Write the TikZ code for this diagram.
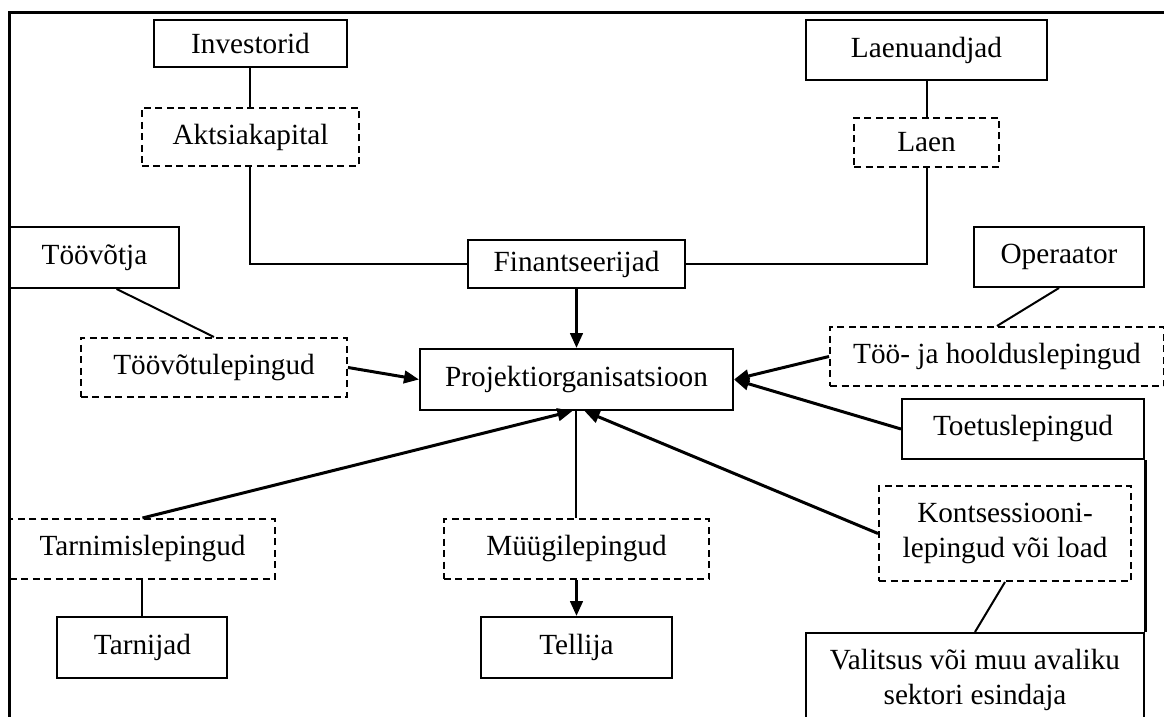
\documentclass[tikz,border=0pt]{standalone}
\usepackage{fontspec}
\setmainfont{Liberation Serif}
\usetikzlibrary{arrows.meta,positioning}

\begin{document}
\begin{tikzpicture}[
  font=\fontsize{11.7}{14}\selectfont,
  box/.style={draw, line width=0.8pt, align=center, inner sep=0pt},
  dashbox/.style={box, dash pattern=on 2.8pt off 1.8pt},
  link/.style={line width=0.8pt},
  heavy/.style={line width=1.2pt},
  flow/.style={heavy, -{Triangle[length=6pt,width=5pt]}},
]
\useasboundingbox (-230.6pt,-134.6pt) rectangle (235pt,151.8pt);

% centre
\node[box, minimum width=125.2pt, minimum height=24.4pt] (proj) {Projektiorganisatsioon};
\node[box, minimum width=86.8pt, minimum height=19.2pt, above=23.6pt of proj] (fin) {Finantseerijad};

% financing side
\node[dashbox, minimum width=86.8pt, minimum height=23.2pt, above left=28.8pt and 42.8pt of fin] (akts) {Aktsiakapital};
\node[box, minimum width=77.2pt, minimum height=18.8pt, above=15.6pt of akts] (inv) {Investorid};
\node[dashbox, minimum width=58pt, minimum height=19.6pt, above right=28.4pt and 66.8pt of fin] (laen) {Laen};
\node[box, minimum width=96.4pt, minimum height=24pt, above=14.4pt of laen] (lender) {Laenuandjad};

% left and right contracts
\node[dashbox, minimum width=106.4pt, minimum height=23.6pt, left=28.4pt of proj, yshift=4.8pt] (tvl) {Töövõtulepingud};
\node[box, minimum width=67.6pt, minimum height=24.4pt, above=19.2pt of tvl, xshift=-47.8pt] (worker) {Töövõtja};
\node[dashbox, minimum width=133.6pt, minimum height=23.6pt, right=38pt of proj, yshift=9.2pt] (maint) {Töö- ja hooldus\-lepingud};
\node[box, minimum width=68pt, minimum height=24pt, above=15.2pt of maint, xshift=24.8pt] (oper) {Operaator};
\node[box, minimum width=96.8pt, minimum height=24pt, below=4.4pt of maint, xshift=10.4pt] (support) {Toetuslepingud};
\node[dashbox, minimum width=100.8pt, minimum height=38pt, below=10pt of support, xshift=-7.2pt] (conc) {Kontsessiooni-\\lepingud või load};
\node[box, minimum width=135.2pt, minimum height=37.6pt, below=20pt of conc, xshift=-12pt] (gov) {Valitsus või muu avaliku\\sektori esindaja};

% bottom row
\node[dashbox, minimum width=106pt, minimum height=24pt, below=42.8pt of proj] (sales) {Müügilepingud};
\node[box, minimum width=76.4pt, minimum height=24.4pt, below=14.4pt of sales] (client) {Tellija};
\node[dashbox, minimum width=106pt, minimum height=24pt, left=66.8pt of sales] (supply) {Tarnimislepingud};
\node[box, minimum width=68pt, minimum height=24.4pt, below=14.4pt of supply] (suppliers) {Tarnijad};

% frame
\draw[heavy] (-226.6pt,-150pt) |- (250pt,146.6pt);

% connectors
\draw[link] (inv) -- (akts);
\draw[link] (akts.south) |- (fin.west);
\draw[link] (lender) -- (laen);
\draw[link] (laen.south) |- (fin.east);
\draw[flow] (fin) -- (proj);
\draw[link] (worker.-55) -- (tvl.north);
\draw[flow] (tvl.east) -- (proj.west);
\draw[link] (oper.south) -- (maint.north);
\draw[flow] (maint.west) -- (proj.east);
\draw[flow] (support.west) -- (proj.east);
\draw[heavy] (support.south east) -- (gov.north east);
\draw[link] (conc.south) -- (gov.north);
\draw[flow] (conc.west) -- ([xshift=3.2pt]proj.south);
\draw[flow] (supply.north) -- ([xshift=-1.6pt]proj.south);
\draw[link] (sales.north) -- (proj.south);
\draw[flow] (sales.south) -- (client.north);
\draw[link] (supply.south) -- (suppliers.north);
\end{tikzpicture}
\end{document}
